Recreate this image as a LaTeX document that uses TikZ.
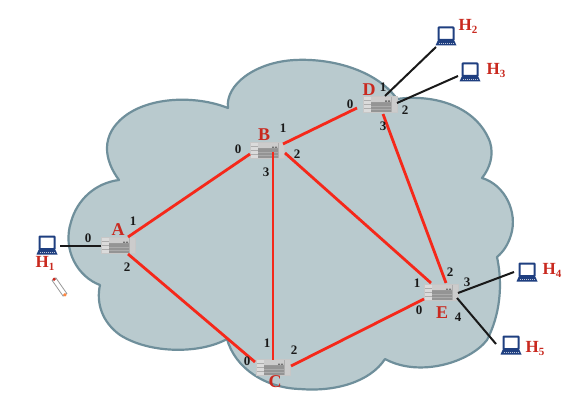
\documentclass[tikz,border=0pt]{standalone}
\usepackage{fontspec}
\setmainfont{Liberation Serif}
\usetikzlibrary{calc}
\definecolor{cloudfill}{HTML}{B9CACE}
\definecolor{cloudedge}{HTML}{6F8F9B}
\definecolor{linkred}{HTML}{F5281A}
\definecolor{labelred}{HTML}{C9291F}
\definecolor{lapblue}{HTML}{1F3F80}
\newcommand{\hlabel}[1]{H\raisebox{-3pt}{\fontsize{11}{11}\selectfont #1}}
\tikzset{
  routerbox/.style={rectangle,draw=black!22,line width=.4pt,fill=black!20,minimum width=34pt,minimum height=16pt,inner sep=0pt,
    path picture={\begin{scope}[shift={(path picture bounding box.center)}]
      \fill[black!42] (-9,-1) rectangle (11,8);
      \fill[black!33] (-9,2) rectangle (11,3.2);
      \fill[black!33] (-9,5) rectangle (11,6);
      \fill[black!14] (-17,-8) rectangle (-9,8);
      \draw[black!32,line width=.3pt] (-17,-4) -- (-9,-4) (-17,0) -- (-9,0) (-17,4) -- (-9,4) (11,-8) -- (11,8);
      \fill[black!55] (5,-3.5) rectangle (7,-2) (8,-3.5) rectangle (10,-2);
      \draw[black!40,line width=.4pt] (-9,-2) -- (11,-2);
    \end{scope}}},
  laptopbox/.style={rectangle,minimum width=21pt,minimum height=19pt,inner sep=0pt,
    path picture={\begin{scope}[shift={(path picture bounding box.center)}]
      \draw[lapblue,line width=2pt,fill=white,rounded corners=.6pt] (-7.5,-8.5) rectangle (7.5,4);
      \fill[lapblue] (-8,4) -- (8,4) -- (10.5,9.5) -- (-10.5,9.5) -- cycle;
      \draw[white!70!lapblue,line width=.8pt,dash pattern=on 1.2pt off .8pt] (-7.5,7) -- (7.5,7);
    \end{scope}}},
  redlink/.style={draw=linkred,line width=2.8pt},
  hostlink/.style={draw=black!90,line width=2pt},
  routername/.style={text=labelred,font=\fontsize{18}{18}\selectfont\bfseries,inner sep=0pt},
  hostname/.style={text=labelred,font=\fontsize{17}{17}\selectfont\bfseries,inner sep=0pt},
  portnum/.style={text=black!90,font=\fontsize{13}{13}\selectfont\bfseries,inner sep=0pt}
}
\begin{document}
\begin{tikzpicture}[x=1pt,y=-1pt]
\useasboundingbox (0,0) rectangle (570,401);
\fill[white] (0,0) rectangle (570,401);
% cloud
\draw[fill=cloudfill,draw=cloudedge,line width=2.2pt,line join=round]
  (100,285) .. controls (78,277) and (62,250) .. (71,222)
  .. controls (77,200) and (95,183) .. (119,180)
  .. controls (104,160) and (100,135) .. (125,116)
  .. controls (150,97) and (195,95) .. (228,108)
  .. controls (225,85) and (255,62) .. (295,60)
  .. controls (335,58) and (378,72) .. (397,99)
  .. controls (432,94) and (476,105) .. (490,142)
  .. controls (494,155) and (490,168) .. (482,178)
  .. controls (505,185) and (518,212) .. (511,235)
  .. controls (508,245) and (503,252) .. (497,257)
  .. controls (503,285) and (500,315) .. (487,340)
  .. controls (470,362) and (420,378) .. (385,359)
  .. controls (370,382) and (335,392) .. (300,389)
  .. controls (265,388) and (235,368) .. (227,339)
  .. controls (200,354) and (150,354) .. (120,335)
  .. controls (102,322) and (96,303) .. (100,285) -- cycle;
% routers
\node[routerbox] (A) at (118,245) {};
\node[routerbox] (B) at (267,150) {};
\node[routerbox] (C) at (273,367) {};
\node[routerbox] (D) at (380,104) {};
\node[routerbox] (E) at (441,292) {};
% hosts
\node[laptopbox] (H1) at (47,245) {};
\node[laptopbox] (H2) at (446,36) {};
\node[laptopbox] (H3) at (470,72) {};
\node[laptopbox] (H4) at (527,272) {};
\node[laptopbox] (H5) at (511,345) {};
% links
\draw[redlink] ($(A)+(10,-8)$) -- ($(B)+(-17,4)$);
\draw[redlink] ($(A)+(10,9)$) -- ($(C)+(-18,-5)$);
\draw[redlink] ($(B)+(6,2)$) -- ($(C)+(0,-7)$);
\draw[redlink] ($(B)+(16,-6)$) -- ($(D)+(-23,4)$);
\draw[redlink] ($(B)+(18,3)$) -- ($(E)+(-10,-9)$);
\draw[redlink] ($(C)+(18,-1)$) -- ($(E)+(-17,7)$);
\draw[redlink] ($(D)+(3,10)$) -- ($(E)+(5,-9)$);
\draw[hostlink] ($(H1)+(13,1)$) -- ($(A)+(-17,1)$);
\draw[hostlink] ($(H2)+(-10,11)$) -- ($(D)+(5,-8)$);
\draw[hostlink] ($(H3)+(-12,4)$) -- ($(D)+(17,-1)$);
\draw[hostlink] ($(H4)+(-13,0)$) -- ($(E)+(17,1)$);
\draw[hostlink] ($(H5)+(-15,-1)$) -- ($(E)+(16,6)$);
% cigarette-shaped mark
\node[name=pen,rectangle,draw=black!40,fill=white,line width=.8pt,minimum width=19pt,minimum height=4.5pt,inner sep=0pt,rotate=-55] at (59.5,287) {};
\fill[labelred] ($(pen.center)+(-5.4,-7.8)$) circle (1.8pt);
\fill[orange!75!red!75] ($(pen.center)+(5.4,7.8)$) circle (1.8pt);
% router names
\node[routername] (nA) at (118,230) {A};
\node[routername] (nB) at (264,135) {B};
\node[routername] (nC) at (275,382) {C};
\node[routername] (nD) at (369,90) {D};
\node[routername] (nE) at (442,313) {E};
% host names
\node[hostname] (nH1) at (45,263) {\hlabel{1}};
\node[hostname] (nH2) at (468,26) {\hlabel{2}};
\node[hostname] (nH3) at (496,70) {\hlabel{3}};
\node[hostname] (nH4) at (552,270) {\hlabel{4}};
\node[hostname] (nH5) at (535,348) {\hlabel{5}};
% port numbers
\node[portnum] (a0) at (88,238) {0};
\node[portnum] (a1) at (133,221) {1};
\node[portnum] (a2) at (127,267) {2};
\node[portnum] (b0) at (238,149) {0};
\node[portnum] (b1) at (283,128) {1};
\node[portnum] (b2) at (297,154) {2};
\node[portnum] (b3) at (266,172) {3};
\node[portnum] (c0) at (247,361) {0};
\node[portnum] (c1) at (267,343) {1};
\node[portnum] (c2) at (294,350) {2};
\node[portnum] (d0) at (350,104) {0};
\node[portnum] (d1) at (383,87) {1};
\node[portnum] (d2) at (405,110) {2};
\node[portnum] (d3) at (383,126) {3};
\node[portnum] (e0) at (419,310) {0};
\node[portnum] (e1) at (417,283) {1};
\node[portnum] (e2) at (450,272) {2};
\node[portnum] (e3) at (467,282) {3};
\node[portnum] (e4) at (458,317) {4};
\end{tikzpicture}
\end{document}
